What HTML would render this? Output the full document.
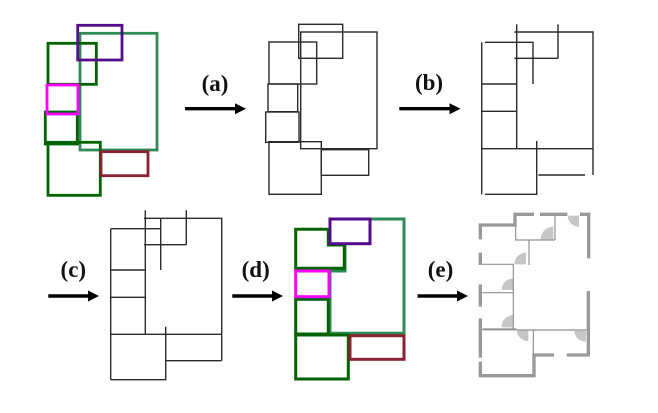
<!DOCTYPE html>
<html><head><meta charset="utf-8"><style>
html,body{margin:0;padding:0;background:#fff;width:658px;height:413px;overflow:hidden}
svg{display:block}
text{font-family:"Liberation Serif",serif;font-weight:bold;font-size:23px;fill:#111;text-anchor:middle}
.k{stroke:#2a2a2a;stroke-width:1.4;fill:none}
.d{fill:#c6c6c6;stroke:none}
</style></head><body>
<svg width="658" height="413" viewBox="0 0 658 413" xmlns="http://www.w3.org/2000/svg">
<defs><filter id="b" x="-5%" y="-5%" width="110%" height="110%"><feGaussianBlur stdDeviation="0.35"/></filter></defs>
<g filter="url(#b)">
<!-- panel 1 -->
<g fill="none" stroke-width="2.8">
<rect x="80" y="33.3" width="77" height="116.7" stroke="#2e8b57"/>
<rect x="48" y="43.3" width="48.3" height="41" stroke="#006400"/>
<rect x="45.3" y="112" width="32" height="32" stroke="#006400"/>
<rect x="48" y="142.3" width="52.3" height="53" stroke="#006400"/>
<rect x="101" y="151.7" width="47" height="24" stroke="#8b2030"/>
<rect x="77.7" y="25.3" width="44.3" height="34.7" stroke="#560a8c"/>
<rect x="47" y="85" width="31" height="29" stroke="#ff00ff"/>
</g>
<!-- panel 2 -->
<g class="k">
<rect x="298.7" y="24.3" width="44" height="34"/>
<rect x="300.7" y="32" width="76.3" height="116.7"/>
<rect x="269" y="42" width="47.7" height="42"/>
<rect x="268" y="84" width="29.7" height="27.7"/>
<rect x="265.7" y="112" width="33.3" height="30.3"/>
<rect x="269" y="141.7" width="52.3" height="52.6"/>
<rect x="321.3" y="149.7" width="47.4" height="25.6"/>
</g>
<!-- panel 3 -->
<path class="k" d="M516.7 24.3V148.7M558 24.3V58.3M514.3 32H593V175M485 42.3H533V84M514.3 58.3H558.3M481.7 84H516.7M481.7 42.3V194.3M481.7 111.3H516.7M481.7 148.7H593M536.7 141V194.3H485M538.3 175H585"/>
<!-- panel c -->
<path class="k" d="M145.3 210.3V334.3M186.3 210.3V244.7M144 218.3H221.7V360.7M110.7 228.7H160.7M160.7 218.3V270M144 244.7H186.3M110.7 270H145.3M110.7 297.3H145.3M110.7 228.7V379.7M110.7 334.3H221.7M165.7 326.7V379.7H110.7M165.7 360.7H221.7"/>
<!-- panel d -->
<g fill="none" stroke-width="3">
<path stroke="#2e8b57" d="M370 219H404V333.3H330V271H345V245"/>
<path stroke="#006400" d="M295.7 229.3H328.3V245H344.3V268.3H295.7Z"/>
<rect x="295.7" y="299.3" width="32.6" height="34.7" stroke="#006400"/>
<rect x="295.7" y="335" width="52.6" height="44" stroke="#006400"/>
<rect x="350" y="335.7" width="54" height="23.6" stroke="#8b2030"/>
<rect x="330" y="219" width="40" height="24.7" stroke="#560a8c"/>
<rect x="295.7" y="271" width="33.3" height="25.7" stroke="#ff00ff"/>
</g>
<!-- panel e -->
<g transform="translate(410 205) scale(.33333)">
<path class="d" d="M430 103H392A38 38 0 0 1 430 65Z"/>
<path class="d" d="M348 178H313A35 35 0 0 1 348 143Z"/>
<path class="d" d="M310 255H275A35 35 0 0 1 310 220Z"/>
<path class="d" d="M310 367H275A35 35 0 0 1 310 330Z"/>
<path class="d" d="M355 377H320A35 33 0 0 0 355 408Z"/>
<path class="d" d="M528 378H493A35 33 0 0 0 528 410Z"/>
<path class="d" d="M507 32H473A34 33 0 0 0 507 65Z"/>
<path d="M217 178H312M310 178V370M217 263H310M317 40V105H435M435 30V105M357 105V180M370 375V447M320 375H530" fill="none" stroke="#8f8f8f" stroke-width="3.5"/>
<path d="M217 373H320" fill="none" stroke="#8f8f8f" stroke-width="6"/>
<path d="M372 28H315V60H211V103M390 28H472M510 28H536V160M211 143V180M211 238V305M211 340V458M211 470V512H372V450H432M470 450H535V258" fill="none" stroke="#999" stroke-width="10"/>
</g>
<!-- arrows -->
<g stroke="#000" stroke-width="3.4" fill="#000">
<path d="M185 108.7H238"/><path stroke="none" d="M235 103.2L246 108.7L235 114.2Z"/>
<path d="M399.3 108.7H452"/><path stroke="none" d="M449.5 103.2L460.5 108.7L449.5 114.2Z"/>
<path d="M48.3 296H90"/><path stroke="none" d="M88 290.5L99 296L88 301.5Z"/>
<path d="M232.3 296H274"/><path stroke="none" d="M272 290.5L283 296L272 301.5Z"/>
<path d="M417.5 296H459"/><path stroke="none" d="M457 290.5L468 296L457 301.5Z"/>
</g>
</g>
<text x="215" y="91">(a)</text>
<text x="429" y="90">(b)</text>
<text x="73.3" y="277">(c)</text>
<text x="255.7" y="277">(d)</text>
<text x="440.5" y="277">(e)</text>
</svg>
</body></html>
